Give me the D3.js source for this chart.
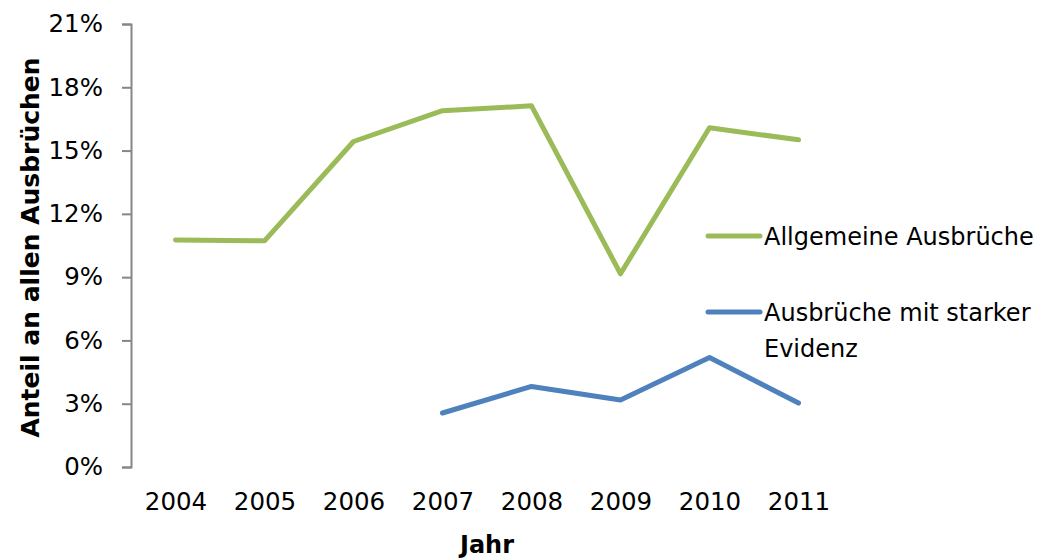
<!DOCTYPE html>
<html>
<head>
<meta charset="utf-8">
<script src="https://cdn.jsdelivr.net/npm/d3@7"></script>
<style>
	body { margin: 0; background: #fff; }
	text { font-family: "DejaVu Sans", Verdana, sans-serif; fill: #000; }
</style>
</head>
<body>
<div id="wrapper"></div>
<script>
// Data
const years = ['2004', '2005', '2006', '2007', '2008', '2009', '2010', '2011']
const allgemeine = [10.76, 10.72, 15.43, 16.89, 17.12, 9.16, 16.08, 15.51]
const starkeEvidenz = [null, null, null, 2.56, 3.82, 3.18, 5.19, 3.03]
const yTicks = [0, 3, 6, 9, 12, 15, 18, 21]
const seriesNames = ['Allgemeine Ausbrüche', 'Ausbrüche mit starker Evidenz']

function drawChart() {
	const dimensions = {
		width: 1040,
		height: 558,
		margin: { top: 24, bottom: 91, left: 131, right: 197 }
	}
	dimensions.boundedWidth = dimensions.width - dimensions.margin.left - dimensions.margin.right
	dimensions.boundedHeight = dimensions.height - dimensions.margin.top - dimensions.margin.bottom

	const wrapper = d3.select('#wrapper')
		.append('svg')
			.attr('width', dimensions.width)
			.attr('height', dimensions.height)

	const bounds = wrapper.append('g')
		.attr('transform', `translate(${dimensions.margin.left},${dimensions.margin.top})`)

	// Scales
	const xScale = d3.scalePoint()
		.domain(years)
		.range([0, dimensions.boundedWidth])
		.padding(0.5)

	const yScale = d3.scaleLinear()
		.domain([0, 21])
		.range([dimensions.boundedHeight, 0])

	// Y axis
	const yAxis = bounds.append('g')
		.call(d3.axisLeft(yScale)
			.tickValues(yTicks)
			.tickSize(9)
			.tickPadding(19)
			.tickFormat(d => d + '%'))
	yAxis.select('.domain').attr('stroke', '#868686').attr('stroke-width', 2)
	yAxis.selectAll('.tick line').attr('stroke', '#868686').attr('stroke-width', 2)
	yAxis.selectAll('.tick text')
		.attr('font-size', 24.5)
		.attr('font-family', '"DejaVu Sans", Verdana, sans-serif')
		.attr('fill', '#000')

	// X labels (no axis line)
	const xAxis = bounds.append('g')
		.attr('transform', `translate(0,${dimensions.boundedHeight})`)
		.call(d3.axisBottom(xScale).tickSize(0).tickPadding(26))
	xAxis.select('.domain').remove()
	xAxis.selectAll('.tick text')
		.attr('font-size', 24.5)
		.attr('font-family', '"DejaVu Sans", Verdana, sans-serif')
		.attr('fill', '#000')

	// Lines
	const colors = ['#9BBB59', '#4F81BD']
	const line = d3.line()
		.defined(d => d.v != null)
		.x(d => xScale(d.year))
		.y(d => yScale(d.v))

	const seriesData = [allgemeine, starkeEvidenz].map(arr => years.map((year, i) => ({ year, v: arr[i] })))

	bounds.selectAll('.series')
		.data(seriesData)
		.join('path')
			.attr('class', 'series')
			.attr('d', line)
			.attr('fill', 'none')
			.attr('stroke', (d, i) => colors[i])
			.attr('stroke-width', 5)
			.attr('stroke-linecap', 'round')
			.attr('stroke-linejoin', 'round')

	// Legend
	const legend = wrapper.append('g')
	const legendY = [236, 312]
	seriesNames.forEach((name, i) => {
		legend.append('line')
			.attr('x1', 708).attr('x2', 760)
			.attr('y1', legendY[i]).attr('y2', legendY[i])
			.attr('stroke', colors[i])
			.attr('stroke-width', 5)
			.attr('stroke-linecap', 'round')
	})
	legend.append('text')
		.attr('x', 764).attr('y', legendY[0] + 9)
		.attr('font-size', 24)
		.text(seriesNames[0])
	const t2 = legend.append('text')
		.attr('x', 764).attr('y', legendY[1] + 9)
		.attr('font-size', 24)
	t2.append('tspan').attr('x', 764).text('Ausbrüche mit starker')
	t2.append('tspan').attr('x', 764).attr('dy', 36).text('Evidenz')

	// Axis titles
	wrapper.append('text')
		.attr('transform', `translate(39,${dimensions.margin.top + dimensions.boundedHeight / 2 + 2}) rotate(-90)`)
		.attr('text-anchor', 'middle')
		.attr('font-size', 25)
		.attr('font-weight', 'bold')
		.text('Anteil an allen Ausbrüchen')

	wrapper.append('text')
		.attr('x', dimensions.margin.left + dimensions.boundedWidth / 2)
		.attr('y', 553)
		.attr('text-anchor', 'middle')
		.attr('font-size', 24)
		.attr('font-weight', 'bold')
		.text('Jahr')
}
drawChart()
</script>
</body>
</html>
